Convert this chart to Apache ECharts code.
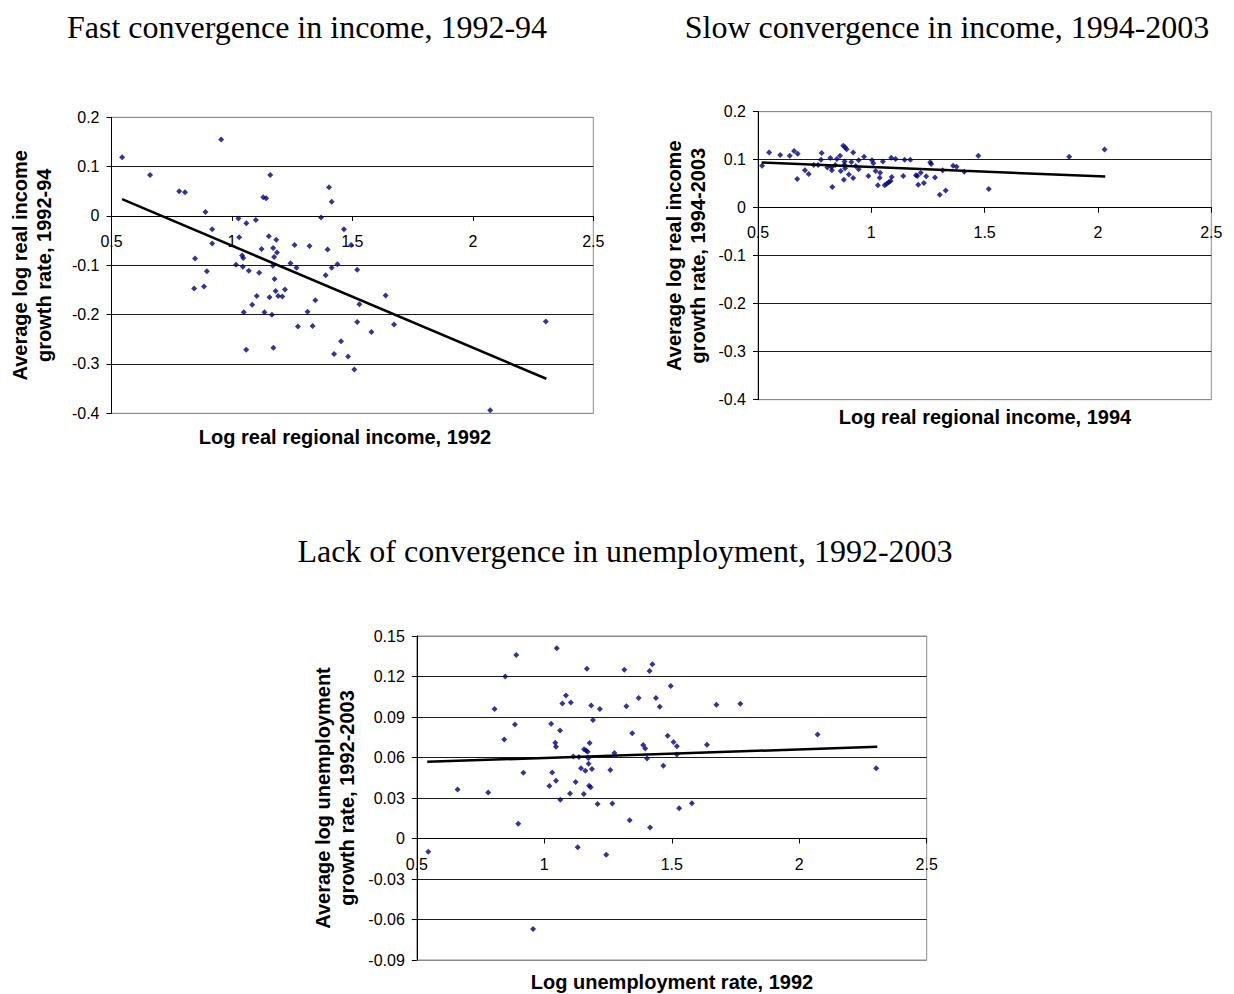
<!DOCTYPE html>
<html>
<head>
<meta charset="utf-8">
<title>Convergence in income and unemployment</title>
<script src="https://cdn.jsdelivr.net/npm/echarts@6/dist/echarts.min.js"></script>
<style>
  html, body { margin: 0; padding: 0; background: #fff; }
  #chart { width: 1234px; height: 994px; }
</style>
</head>
<body>
<div id="chart"></div>
<script>
// Panel titles
const panelTitles = [
  'Fast convergence in income, 1992-94',
  'Slow convergence in income, 1994-2003',
  'Lack of convergence in unemployment, 1992-2003'
];
const xNames = [
  'Log real regional income, 1992',
  'Log real regional income, 1994',
  'Log unemployment rate, 1992'
];
const yNames = [
  'Average log real income\ngrowth rate, 1992-94',
  'Average log real income\ngrowth rate, 1994-2003',
  'Average log unemployment\ngrowth rate, 1992-2003'
];

// Regions: [log real income 1992, avg log income growth 1992-94]
const income9294 = [
  [0.544, 0.119], [0.660, 0.083], [0.955, 0.155], [0.781, 0.050], [0.805, 0.048],
  [1.159, 0.083], [1.130, 0.038], [1.142, 0.036], [1.403, 0.058], [1.414, 0.029],
  [0.890, 0.008], [1.027, -0.005], [1.099, -0.008], [1.060, -0.015], [1.370, -0.003],
  [1.465, -0.027], [0.918, -0.027], [0.918, -0.056], [1.030, -0.043], [1.153, -0.041],
  [1.184, -0.048], [1.123, -0.067], [1.171, -0.065], [1.187, -0.074], [1.175, -0.083],
  [1.260, -0.059], [1.322, -0.061], [1.397, -0.068], [0.847, -0.086], [1.042, -0.080],
  [1.047, -0.085], [1.017, -0.099], [1.045, -0.103], [1.070, -0.111], [1.170, -0.101],
  [1.243, -0.096], [1.268, -0.105], [1.414, -0.105], [1.438, -0.098], [0.896, -0.112],
  [1.113, -0.115], [0.843, -0.147], [0.884, -0.143], [1.177, -0.128], [1.103, -0.162],
  [1.084, -0.180], [1.049, -0.195], [1.135, -0.195], [1.166, -0.200], [1.156, -0.165],
  [1.181, -0.152], [1.192, -0.162], [1.209, -0.163], [1.220, -0.149], [1.274, -0.224],
  [1.314, -0.194], [1.335, -0.223], [1.346, -0.171], [1.389, -0.120], [1.059, -0.271],
  [1.172, -0.267], [1.453, -0.254], [1.424, -0.280], [1.482, -0.285], [1.520, -0.109],
  [1.638, -0.161], [1.529, -0.179], [1.520, -0.215], [1.673, -0.220], [1.579, -0.235],
  [1.508, -0.311], [2.303, -0.214], [2.072, -0.394], [1.495, -0.059]
];
const trend9294 = [[0.544, 0.034], [2.305, -0.330]];

// Regions: [log real income 1994, avg log income growth 1994-2003]
const income9403 = [
  [0.518, 0.0875], [0.549, 0.115], [0.598, 0.110], [0.640, 0.108], [0.659, 0.118],
  [0.675, 0.1125], [0.673, 0.060], [0.707, 0.078], [0.724, 0.070], [0.746, 0.089],
  [0.765, 0.089], [0.781, 0.114], [0.778, 0.100], [0.806, 0.084], [0.819, 0.1035],
  [0.825, 0.085], [0.826, 0.078], [0.828, 0.043], [0.848, 0.1015], [0.862, 0.108],
  [0.841, 0.089], [0.865, 0.0765], [0.876, 0.129], [0.884, 0.126], [0.891, 0.122],
  [0.882, 0.096], [0.881, 0.0895], [0.884, 0.082], [0.879, 0.058], [0.901, 0.069],
  [0.912, 0.095], [0.920, 0.115], [0.920, 0.062], [0.931, 0.087], [0.944, 0.099],
  [0.944, 0.080], [0.968, 0.106], [0.987, 0.066], [1.003, 0.099], [1.009, 0.0925],
  [1.019, 0.0765], [1.029, 0.047], [1.039, 0.073], [1.037, 0.0625], [1.051, 0.096],
  [1.059, 0.047], [1.068, 0.050], [1.077, 0.053], [1.085, 0.0555], [1.088, 0.104],
  [1.090, 0.064], [1.107, 0.1015], [1.141, 0.066], [1.147, 0.100], [1.172, 0.100],
  [1.197, 0.0675], [1.203, 0.066], [1.207, 0.048], [1.218, 0.073], [1.232, 0.0515],
  [1.242, 0.0655], [1.260, 0.0945], [1.264, 0.091], [1.281, 0.063], [1.302, 0.027],
  [1.315, 0.078], [1.328, 0.036], [1.361, 0.0875], [1.376, 0.0855], [1.410, 0.075],
  [1.472, 0.108], [1.518, 0.039], [1.873, 0.106], [2.029, 0.121]
];
const trend9403 = [[0.516, 0.094], [2.032, 0.065]];

// Regions: [log unemployment rate 1992, avg log unemployment growth 1992-2003]
const unemp9203 = [
  [0.890, 0.136], [1.049, 0.141], [0.847, 0.120], [0.805, 0.0959], [0.885, 0.0844],
  [0.843, 0.0733], [1.085, 0.106], [1.071, 0.100], [1.104, 0.1007], [1.027, 0.085],
  [1.062, 0.080], [1.043, 0.071], [1.046, 0.068], [1.167, 0.1257], [1.184, 0.0985],
  [1.218, 0.0959], [1.191, 0.0877], [1.178, 0.0707], [1.156, 0.0662], [1.164, 0.0652],
  [1.170, 0.0642], [1.275, 0.0633], [1.314, 0.125], [1.322, 0.098], [1.345, 0.078],
  [1.370, 0.104], [1.388, 0.0692], [1.396, 0.0667], [1.424, 0.129], [1.413, 0.124],
  [1.438, 0.104], [1.453, 0.0976], [1.484, 0.0761], [1.496, 0.113], [1.114, 0.0607],
  [1.136, 0.0603], [1.173, 0.0596], [1.403, 0.0593], [1.507, 0.0714], [1.520, 0.0684],
  [1.520, 0.0622], [1.638, 0.0694], [1.675, 0.099], [1.769, 0.0998], [2.072, 0.077],
  [1.467, 0.0539], [1.174, 0.0553], [1.187, 0.0514], [1.144, 0.0521], [1.161, 0.0501],
  [0.918, 0.0487], [1.031, 0.0489], [1.259, 0.0507], [0.660, 0.0363], [0.780, 0.0341],
  [1.020, 0.0388], [1.046, 0.0427], [1.123, 0.0418], [1.176, 0.039], [1.182, 0.038],
  [1.101, 0.0333], [1.155, 0.0329], [1.063, 0.0287], [1.209, 0.0255], [1.267, 0.0259],
  [1.335, 0.0136], [1.415, 0.0081], [0.898, 0.0109], [0.545, -0.0099], [1.131, -0.0064],
  [1.243, -0.0121], [0.956, -0.0671], [1.529, 0.0225], [1.579, 0.0262], [2.302, 0.0521]
];
const trend9203 = [[0.541, 0.0568], [2.306, 0.0679]];

// Axis ranges: [min, max, interval]
const xRange = [0.5, 2.5, 0.5];
const yRanges = [[-0.4, 0.2, 0.1], [-0.4, 0.2, 0.1], [-0.09, 0.15, 0.03]];

const pointSets = [income9294, income9403, unemp9203];
const trendSets = [trend9294, trend9403, trend9203];

// Plot area boxes for the three panels
const grids = [
  { left: 111.5, top: 117.3, width: 481.8, height: 296 },
  { left: 758, top: 111.7, width: 453.3, height: 288 },
  { left: 416.8, top: 636, width: 509.9, height: 324 }
];
const yNameGaps = [56, 48, 58];
const xLabelMargins = [18, 17, 18];
const titlePos = [[307, 27], [947, 27], [625, 551]];
const xNamePos = [[345, 437], [985, 417], [672, 982]];

const sans = 'Arial, "Liberation Sans", sans-serif';
const serif = '"Times New Roman", "Liberation Serif", serif';

function splitColors(r) {
  const n = Math.round((r[1] - r[0]) / r[2]) + 1;
  const c = [];
  for (let i = 0; i < n; i++) c.push(i === 0 || i === n - 1 ? '#8c8c8c' : '#1a1a1a');
  return c;
}

// The x axis sits on the y = 0 line: shift it up from the bottom edge
function zeroOffset(g, r) {
  return -g.height * (0 - r[0]) / (r[1] - r[0]);
}

const option = {
  animation: false,
  backgroundColor: '#fff',
  grid: grids.map(g => ({
    left: g.left, top: g.top, width: g.width, height: g.height,
    show: true, borderColor: '#8c8c8c', borderWidth: 1, backgroundColor: 'transparent'
  })),
  xAxis: grids.map((g, i) => ({
    type: 'value', gridIndex: i, position: 'bottom',
    offset: zeroOffset(g, yRanges[i]),
    min: xRange[0], max: xRange[1], interval: xRange[2],
    axisLine: { show: true, onZero: false, lineStyle: { color: '#000', width: 1 } },
    axisTick: { show: true, length: 5, lineStyle: { color: '#000' } },
    axisLabel: { color: '#000', fontSize: 16, fontFamily: sans, margin: xLabelMargins[i] },
    splitLine: { show: false }
  })),
  yAxis: yRanges.map((r, i) => ({
    type: 'value', gridIndex: i,
    min: r[0], max: r[1], interval: r[2],
    name: yNames[i], nameLocation: 'middle', nameGap: yNameGaps[i],
    nameTextStyle: { color: '#000', fontSize: 20, fontWeight: 'bold', fontFamily: sans, lineHeight: 24, align: 'center' },
    axisLine: { show: true, onZero: false, lineStyle: { color: '#000', width: 1 } },
    axisTick: { show: true, length: 5, lineStyle: { color: '#000' } },
    axisLabel: { color: '#000', fontSize: 16, fontFamily: sans, margin: 12 },
    splitLine: { show: true, lineStyle: { color: splitColors(r), width: 1 } }
  })),
  series: [].concat(
    pointSets.map((pts, i) => ({
      type: 'scatter', xAxisIndex: i, yAxisIndex: i,
      data: pts, symbol: 'diamond', symbolSize: 6,
      itemStyle: { color: '#000080' }, z: 3
    })),
    trendSets.map((t, i) => ({
      type: 'line', xAxisIndex: i, yAxisIndex: i,
      data: t, symbol: 'none',
      lineStyle: { color: '#000', width: 2.5 }, z: 4
    }))
  ),
  graphic: [].concat(
    panelTitles.map((t, i) => ({
      type: 'text', x: titlePos[i][0], y: titlePos[i][1],
      style: { text: t, fill: '#000', font: '32px ' + serif, textAlign: 'center', textVerticalAlign: 'middle' }
    })),
    xNames.map((t, i) => ({
      type: 'text', x: xNamePos[i][0], y: xNamePos[i][1],
      style: { text: t, fill: '#000', font: 'bold 20px ' + sans, textAlign: 'center', textVerticalAlign: 'middle' }
    }))
  )
};

const chart = echarts.init(document.getElementById('chart'), null, { renderer: 'svg' });
chart.setOption(option);
</script>
</body>
</html>
